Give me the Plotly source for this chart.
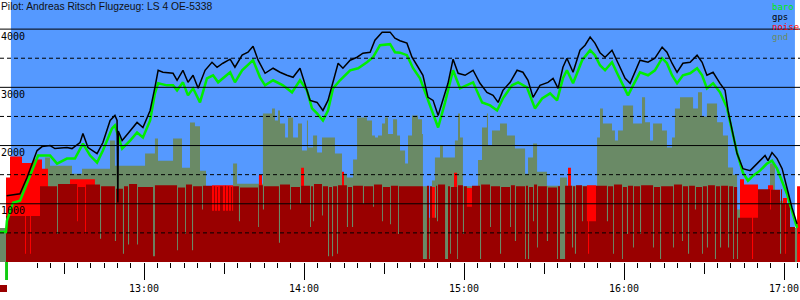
import pandas as pd
import plotly.graph_objects as go

DAY = "2021-05-01"

def tm(mins):
    base = pd.Timestamp(f"{DAY} 12:00")
    return [base + pd.to_timedelta(m, unit="min") for m in mins]

# ---------------- data (minutes after 12:00, altitude m) ----------------
gps_min = [8.5, 13.5, 16.1, 18.4, 19.9, 21.8, 24.8, 26.6, 29.3, 31.1, 33.0, 36.0, 37.1, 39.0, 42.4,
           44.6, 47.3, 49.1, 49.9, 50.2, 50.35, 51.8, 54.0, 57.4, 59.6, 62.3, 64.1, 65.3, 67.1, 70.9,
           72.4, 74.6, 76.5, 78.4, 80.3, 82.9, 85.5, 87.4, 89.6, 92.3, 94.1, 96.8, 99.0, 100.9, 102.8,
           105.4, 108.4, 111.0, 113.6, 115.9, 118.5, 120.4, 122.3, 124.9, 127.1, 129.0, 130.9, 132.8,
           134.6, 137.3, 139.9, 142.1, 144.8, 146.6, 149.3, 152.3, 154.1, 156.0, 158.6, 160.5, 162.8,
           164.6, 166.5, 168.4, 170.3, 172.1, 174.0, 175.9, 177.8, 180.4, 183.4, 186.0, 188.6, 190.9,
           192.8, 194.6, 197.3, 199.9, 202.1, 204.0, 205.9, 208.5, 211.5, 213.4, 215.3, 217.1, 218.6,
           220.9, 223.5, 225.4, 227.3, 229.1, 231.0, 232.9, 235.5, 237.8, 240.4, 242.3, 244.1, 246.0,
           249.0, 251.6, 254.3, 256.1, 258.0, 259.9, 262.1, 264.8, 267.4, 269.3, 271.1, 273.4, 276.0,
           277.9, 279.0, 280.5, 282.4, 284.6, 287.3, 289.9, 292.9, 294.0, 295.5, 297.4, 299.3, 301.1,
           303.0, 304.9]
gps_alt = [1138, 1172, 1448, 1741, 1914, 1983, 2000, 1948, 1966, 1966, 1948, 2050, 2207, 1966, 1862,
           2052, 2431, 2517, 2431, 1020, 2250, 2086, 2207, 2397, 2310, 2603, 3000, 3293, 3259, 3241,
           3121, 3293, 3086, 3207, 2983, 3293, 3431, 3345, 3414, 3483, 3345, 3552, 3603, 3707, 3466,
           3241, 3328, 3259, 3207, 3172, 3328, 3069, 2776, 2741, 2603, 2776, 3121, 3414,
           3328, 3466, 3517, 3586, 3603, 3810, 3948, 3948, 3845, 3800, 3759, 3517, 3345,
           3207, 2828, 2776, 2517, 2776, 3069, 3483, 3241, 3207, 3293, 3069, 2914, 2862,
           2741, 2948, 3086, 3293, 3259, 3121, 2828, 3034, 3086, 3155, 2983, 3345, 3500,
           3259, 3638, 3724, 3862, 3759, 3595, 3517, 3638, 3414, 3155, 3069, 3259, 3466,
           3431, 3500, 3690, 3603, 3414, 3259, 3414, 3431, 3552, 3431, 3207, 3259, 3069,
           2948, 2603, 2259, 1862, 1603, 1569, 1690, 1828, 1741, 1879, 1776, 1603, 1276,
           931, 655]

baro_min = [6.0, 8.25, 8.6, 10.9, 13.5, 16.1, 18.4, 20.3, 24.8, 27.4, 31.1, 34.1, 37.1, 39.8, 42.4,
            44.6, 48.0, 49.1, 51.8, 54.8, 57.4, 59.6, 62.3, 64.1, 65.3, 68.6, 70.9, 72.4, 74.6, 76.5,
            78.4, 81.0, 83.6, 85.9, 87.8, 92.3, 94.1, 96.8, 100.9, 103.5, 105.4, 108.4, 112.1, 115.5,
            118.5, 121.1, 123.0, 124.9, 127.1, 129.0, 130.9, 133.5, 137.3, 140.3, 143.6, 145.9, 148.5,
            152.3, 154.1, 156.0, 158.6, 160.9, 163.5, 166.1, 168.0, 170.3, 172.9, 175.9, 178.5, 181.1,
            183.4, 186.8, 189.8, 192.4, 194.6, 198.0, 200.3, 203.6, 206.6, 209.3, 212.3, 214.9, 217.1,
            218.6, 220.9, 224.3, 227.3, 229.1, 231.0, 232.9, 235.5, 237.8, 240.4, 241.5, 243.4, 246.0,
            249.0, 251.6, 254.3, 256.1, 258.0, 259.9, 262.1, 264.8, 267.4, 269.3, 271.1, 273.4, 276.0,
            278.6, 280.5, 282.4, 284.6, 286.5, 288.4, 291.0, 293.6, 295.5, 297.4, 299.3, 301.1, 303.0,
            304.9]
baro_alt = [517, 517, 707, 1017, 1052, 1345, 1621, 1828, 1828, 1690, 1776, 1776, 2034, 1828, 1707,
            1914, 2293, 2345, 1948, 2086, 2224, 2138, 2431, 2897, 3069, 3034, 3034, 2948, 3086, 2862,
            2983, 2741, 3155, 3207, 3086, 3259, 3086, 3293, 3466, 3172, 3034, 3121, 3034, 2914,
            3121, 2948, 2638, 2552, 2431, 2603, 2983, 3121, 3293, 3328, 3431, 3517, 3724,
            3741, 3603, 3595, 3552, 3328, 3155, 2828, 2603, 2310, 2741, 3293, 2983, 3034,
            3086, 2741, 2690, 2603, 2810, 3034, 3086, 3000, 2638, 2810, 2897, 2776, 3155,
            3293, 3069, 3466, 3638, 3552, 3380, 3293, 3431, 3207, 2948, 2862, 3034, 3259,
            3207, 3293, 3500, 3414, 3207, 3069, 3207, 3241, 3328, 3207, 2983, 3069, 2914,
            2655, 2259, 1879, 1534, 1397, 1483, 1569, 1690, 1741, 1603, 1397, 1172, 879,
            586]

gnd_min = [6.0, 8.25, 21.0, 22.9, 24.75, 33.0, 36.75, 47.25, 49.1, 60.4, 64.1, 65.25, 70.9, 74.25,
           77.25, 79.1, 81.0, 83.25, 93.4, 94.9, 104.6, 108.0, 109.1, 110.25, 111.0, 112.9, 114.0,
           115.9, 117.75, 119.25, 121.1, 121.5, 123.4, 124.9, 126.75, 131.6, 134.25, 136.1, 138.4,
           139.9, 143.6, 145.5, 146.6, 147.75, 149.25, 150.4, 151.5, 153.4, 154.9, 156.0, 157.9,
           159.0, 160.5, 162.75, 164.25, 164.6, 166.1, 168.0, 169.1, 171.0, 172.1, 176.6, 177.75,
           178.5, 179.6, 185.25, 186.75, 188.6, 189.0, 190.5, 193.5, 196.1, 199.1, 202.9, 204.0,
           205.9, 207.4, 211.1, 216.0, 218.6, 229.9, 231.0, 232.1, 235.5, 236.6, 237.75, 239.6,
           243.4, 246.75, 247.9, 249.75, 250.9, 254.25, 256.1, 258.0, 259.1, 261.0, 265.9, 267.75,
           269.25, 271.1, 274.9, 277.1, 279.0, 280.9, 282.4, 283.5, 290.25, 294.75, 296.6, 301.1,
           306.0]
gnd_alt = [586, 800, 1517, 1793, 1655, 1517, 1600, 2086, 1655, 1862, 2120, 1741, 2120, 1620,
           2397, 2330, 1569, 1250, 1690, 1345, 2552, 2638, 2431, 2600, 2379, 2138, 2483,
           2138, 2379, 1914, 2431, 1966, 2172, 1880, 2138, 1862, 1517, 1450, 1760,
           2483, 2431, 2172, 2138, 2172, 2379, 2483, 2200, 2450, 2172, 1914, 1690,
           2172, 2517, 2450, 2200, 1300, 760, 1400, 1793, 2000, 1793, 2086, 2552,
           2138, 1300, 1750, 2310, 2552, 2000, 2259, 2379, 2172, 1948, 1517, 1793,
           2034, 1550, 1310, 1450, 1310, 2138, 2638, 2379, 2260, 2086, 2260, 2690,
           2379, 2828, 2400, 2086, 2379, 2260, 1966, 2138, 2638, 2828, 2638, 2914,
           2500, 2724, 2400, 2172, 1621, 1500, 900, 1000, 1224, 1690, 1050, 586,
           586]

noise_min = [8.25, 9.75, 14.25, 18.4, 21.75, 24.0, 32.25, 41.6, 85.5, 93.4, 103.1, 104.25, 118.9,
             120.0, 134.25, 135.0, 168.0, 169.1, 176.25, 177.4, 181.1, 183.0, 219.0, 220.1, 226.1,
             229.5, 283.5, 285.0, 290.25, 294.0, 295.9, 299.6, 301.1, 304.9, 306.0]
noise_alt = [1450, 1810, 1700, 1760, 1600, 0, 1420, 0, 1320, 0, 1500, 0, 1620,
             0, 1550, 0, 1290, 0, 1534, 0, 1270, 0, 1620, 0, 1320,
             0, 1420, 1330, 0, 1320, 0, 1100, 0, 1300, 1300]

enl_min = [8.25, 15.4, 15.75, 17.25, 17.6, 21.0, 27.4, 27.75, 34.9, 35.25, 37.9, 38.25, 43.5, 43.9,
           49.1, 49.5, 52.1, 52.5, 54.0, 54.4, 57.4, 57.75, 63.4, 64.1, 72.4, 72.75, 75.4, 75.75,
           78.0, 78.4, 81.75, 82.1, 85.5, 86.25, 86.6, 87.4, 87.75, 88.5, 89.6, 90.4, 90.75, 91.5,
           91.9, 92.6, 93.0, 93.4, 95.6, 96.0, 102.75, 103.1, 104.6, 105.0,
           110.6, 111.0, 114.75, 115.1, 118.5, 118.9, 122.25, 122.6, 123.4, 123.75, 126.75, 127.1,
           129.0, 129.4, 130.5, 130.9, 132.4, 132.75, 136.1, 136.5, 138.0, 138.4, 142.1, 142.5,
           145.9, 146.25, 149.25, 149.6, 152.25, 152.6, 155.25, 155.6, 164.6, 166.1, 166.9, 167.25,
           168.0, 169.5, 169.9, 170.25, 172.9, 174.0, 174.75, 175.1, 177.4, 177.75, 179.6, 180.0,
           181.1, 183.0, 186.0, 186.4, 189.75, 190.1, 193.5, 193.9, 197.25, 197.6, 199.1, 199.5,
           202.9, 203.25, 204.0, 204.4, 205.9, 206.25, 207.4, 207.75, 211.1, 211.5, 214.9, 215.25,
           216.0, 217.9, 220.5, 220.9, 221.6, 222.0, 224.25, 224.6, 226.1, 226.5, 226.9, 229.5,
           233.6, 234.0, 235.9, 236.25, 239.25, 239.6, 241.1, 241.5, 243.4, 243.75, 246.0, 246.4,
           250.9, 251.25, 253.5, 253.9, 258.4, 258.75, 261.75, 262.1, 264.0, 264.4, 266.6, 267.0,
           269.25, 269.6, 271.1, 271.5, 274.1, 274.5, 276.0, 276.4, 279.0, 279.4, 280.9, 281.25,
           282.4, 282.75, 288.0, 288.4, 290.25, 294.75, 295.1, 298.5, 298.9, 299.25, 300.4, 300.75,
           302.25, 304.1]
enl_alt = [790, 140, 790, 140, 790, 1300, 480, 1340, 700, 1290, 480, 1330, 400, 1300,
           360, 1260, 140, 1300, 300, 1340, 300, 1290, 100, 1320, 200, 1280, 480, 1330,
           200, 1300, 900, 1310, 880, 1300, 880, 1290, 880, 1300, 880, 1310, 880, 1300,
           880, 1290, 880, 1300, 700, 1280, 600, 1320, 900, 1300,
           330, 1330, 900, 1290, 1000, 1310, 600, 1300, 700, 1340, 800, 1300,
           100, 1290, 100, 1300, 140, 1320, 600, 1290, 600, 1310, 1000, 1300,
           950, 1330, 700, 1290, 650, 1310, 480, 1300, 50, 1310, 50, 1300,
           760, 1310, 700, 1330, 50, 1300, 140, 1290, 50, 1320, 480, 1300,
           950, 1310, 50, 1330, 600, 1300, 140, 1290, 600, 1320, 360, 1300,
           50, 1310, 50, 1290, 700, 1330, 250, 1300, 360, 1280, 50, 1300,
           50, 1310, 250, 1300, 140, 1320, 700, 1300, 700, 140, 700, 1310,
           700, 1300, 140, 1330, 50, 1290, 480, 1310, 250, 1300, 480, 1320,
           250, 1290, 50, 1300, 250, 1330, 360, 1300, 140, 1310, 900, 1290,
           140, 1300, 250, 1320, 50, 1300, 250, 1310, 250, 1300, 50, 1290,
           50, 760, 50, 760, 1250, 900, 1240, 140, 1250, 1000, 140, 1000,
           600, 0]

alt_ticks = [1000, 2000, 3000, 4000]
grid_levels = [500, 1000, 1500, 2000, 2500, 3000, 3500, 4000]
sky_span = [10.1, 304.1]
takeoff_mark = [7.9, 9.0]
x_span = [6, 306]

title_text = "Pilot: Andreas Ritsch Flugzeug: LS 4 OE-5338"
legend_names = ["baro", "gps", "noise", "gnd"]

# ---------------- styles ----------------
SKY = "#5599ff"
GND = "#6a8a66"
NOISE = "#ff0000"
ENL = "#990000"
BARO = "#00ee00"
GPS = "#000000"
MONO = "DejaVu Sans Mono"

fig = go.Figure()
fig.add_trace(go.Scatter(x=tm(gnd_min), y=gnd_alt, mode="lines", line=dict(shape="hv", width=0, color=GND),
                         fill="tozeroy", fillcolor=GND, name="gnd", hoverinfo="skip"))
fig.add_trace(go.Scatter(x=tm(noise_min), y=noise_alt, mode="lines", line=dict(shape="hv", width=0, color=NOISE),
                         fill="tozeroy", fillcolor=NOISE, name="noise", hoverinfo="skip"))
fig.add_trace(go.Scatter(x=tm(enl_min), y=enl_alt, mode="lines", line=dict(shape="hv", width=0, color=ENL),
                         fill="tozeroy", fillcolor=ENL, name="enl", hoverinfo="skip"))
fig.add_trace(go.Scatter(x=tm(baro_min), y=baro_alt, mode="lines", line=dict(width=2.5, color=BARO),
                         name="baro", xaxis="x2"))
fig.add_trace(go.Scatter(x=tm(gps_min), y=gps_alt, mode="lines", line=dict(width=1.5, color=GPS),
                         name="gps", xaxis="x2"))

shapes = [dict(type="rect", xref="x", yref="paper", x0=tm([sky_span[0]])[0], x1=tm([sky_span[1]])[0],
               y0=0, y1=1, fillcolor=SKY, line=dict(width=0), layer="below")]
for lv in grid_levels:
    shapes.append(dict(type="line", xref="paper", yref="y", x0=0, x1=1, y0=lv, y1=lv, layer="above",
                       line=dict(color="black", width=1, dash="solid" if lv % 1000 == 0 else "4px,3px")))
# takeoff marker below the axis and small colour key at the bottom left
shapes.append(dict(type="rect", xref="x", yref="paper", x0=tm([takeoff_mark[0]])[0], x1=tm([takeoff_mark[1]])[0],
                   y0=-18 / 262, y1=0, fillcolor="#11cc11", line=dict(width=0), layer="above"))
shapes.append(dict(type="rect", xref="paper", yref="paper", x0=0, x1=7 / 800, y0=-30 / 262, y1=-23 / 262,
                   fillcolor=ENL, line=dict(width=0), layer="above"))

annotations = [dict(text=title_text, xref="paper", yref="paper", x=0, y=1, xanchor="left", yanchor="top",
                    showarrow=False, font=dict(family="Liberation Sans", size=10.3, color="#111111"),
                    xshift=-1, yshift=1)]
leg_colors = [BARO, GPS, NOISE, GND]
for i, (nm, col) in enumerate(zip(legend_names, leg_colors)):
    annotations.append(dict(text=nm, xref="paper", yref="paper", x=770 / 800, y=1 - (7 + 10 * i) / 262,
                            xanchor="left", yanchor="middle", showarrow=False,
                            font=dict(family=MONO, size=9, color=col)))

xcommon = dict(type="date", range=tm(x_span), showgrid=False, zeroline=False, showline=False)
fig.update_layout(
    width=800, height=300, margin=dict(l=0, r=0, t=0, b=38),
    paper_bgcolor="white", plot_bgcolor="white", showlegend=False,
    xaxis=dict(**xcommon, tickformat="%H:%M", tick0=tm([60])[0], dtick=3600000,
               ticks="outside", ticklen=17, tickwidth=1, tickcolor="black",
               tickfont=dict(family=MONO, size=10, color="black"),
               minor=dict(ticks="outside", ticklen=5, tickwidth=1, tickcolor="black",
                          tick0=tm([60])[0], dtick=300000, showgrid=False)),
    xaxis2=dict(**xcommon, overlaying="x", matches="x", anchor="y", side="bottom",
                tick0=tm([60])[0], dtick=1800000, ticks="outside", ticklen=11, tickwidth=1,
                tickcolor="black", showticklabels=False),
    yaxis=dict(range=[0, 4500], tickvals=alt_ticks, ticktext=[str(v) for v in alt_ticks],
               ticks="", showgrid=False, zeroline=False, showline=False,
               ticklabelposition="inside bottom", ticklabelstandoff=-2,
               tickfont=dict(family=MONO, size=10, color="black")),
    shapes=shapes, annotations=annotations,
)

fig.write_html("out.html")
